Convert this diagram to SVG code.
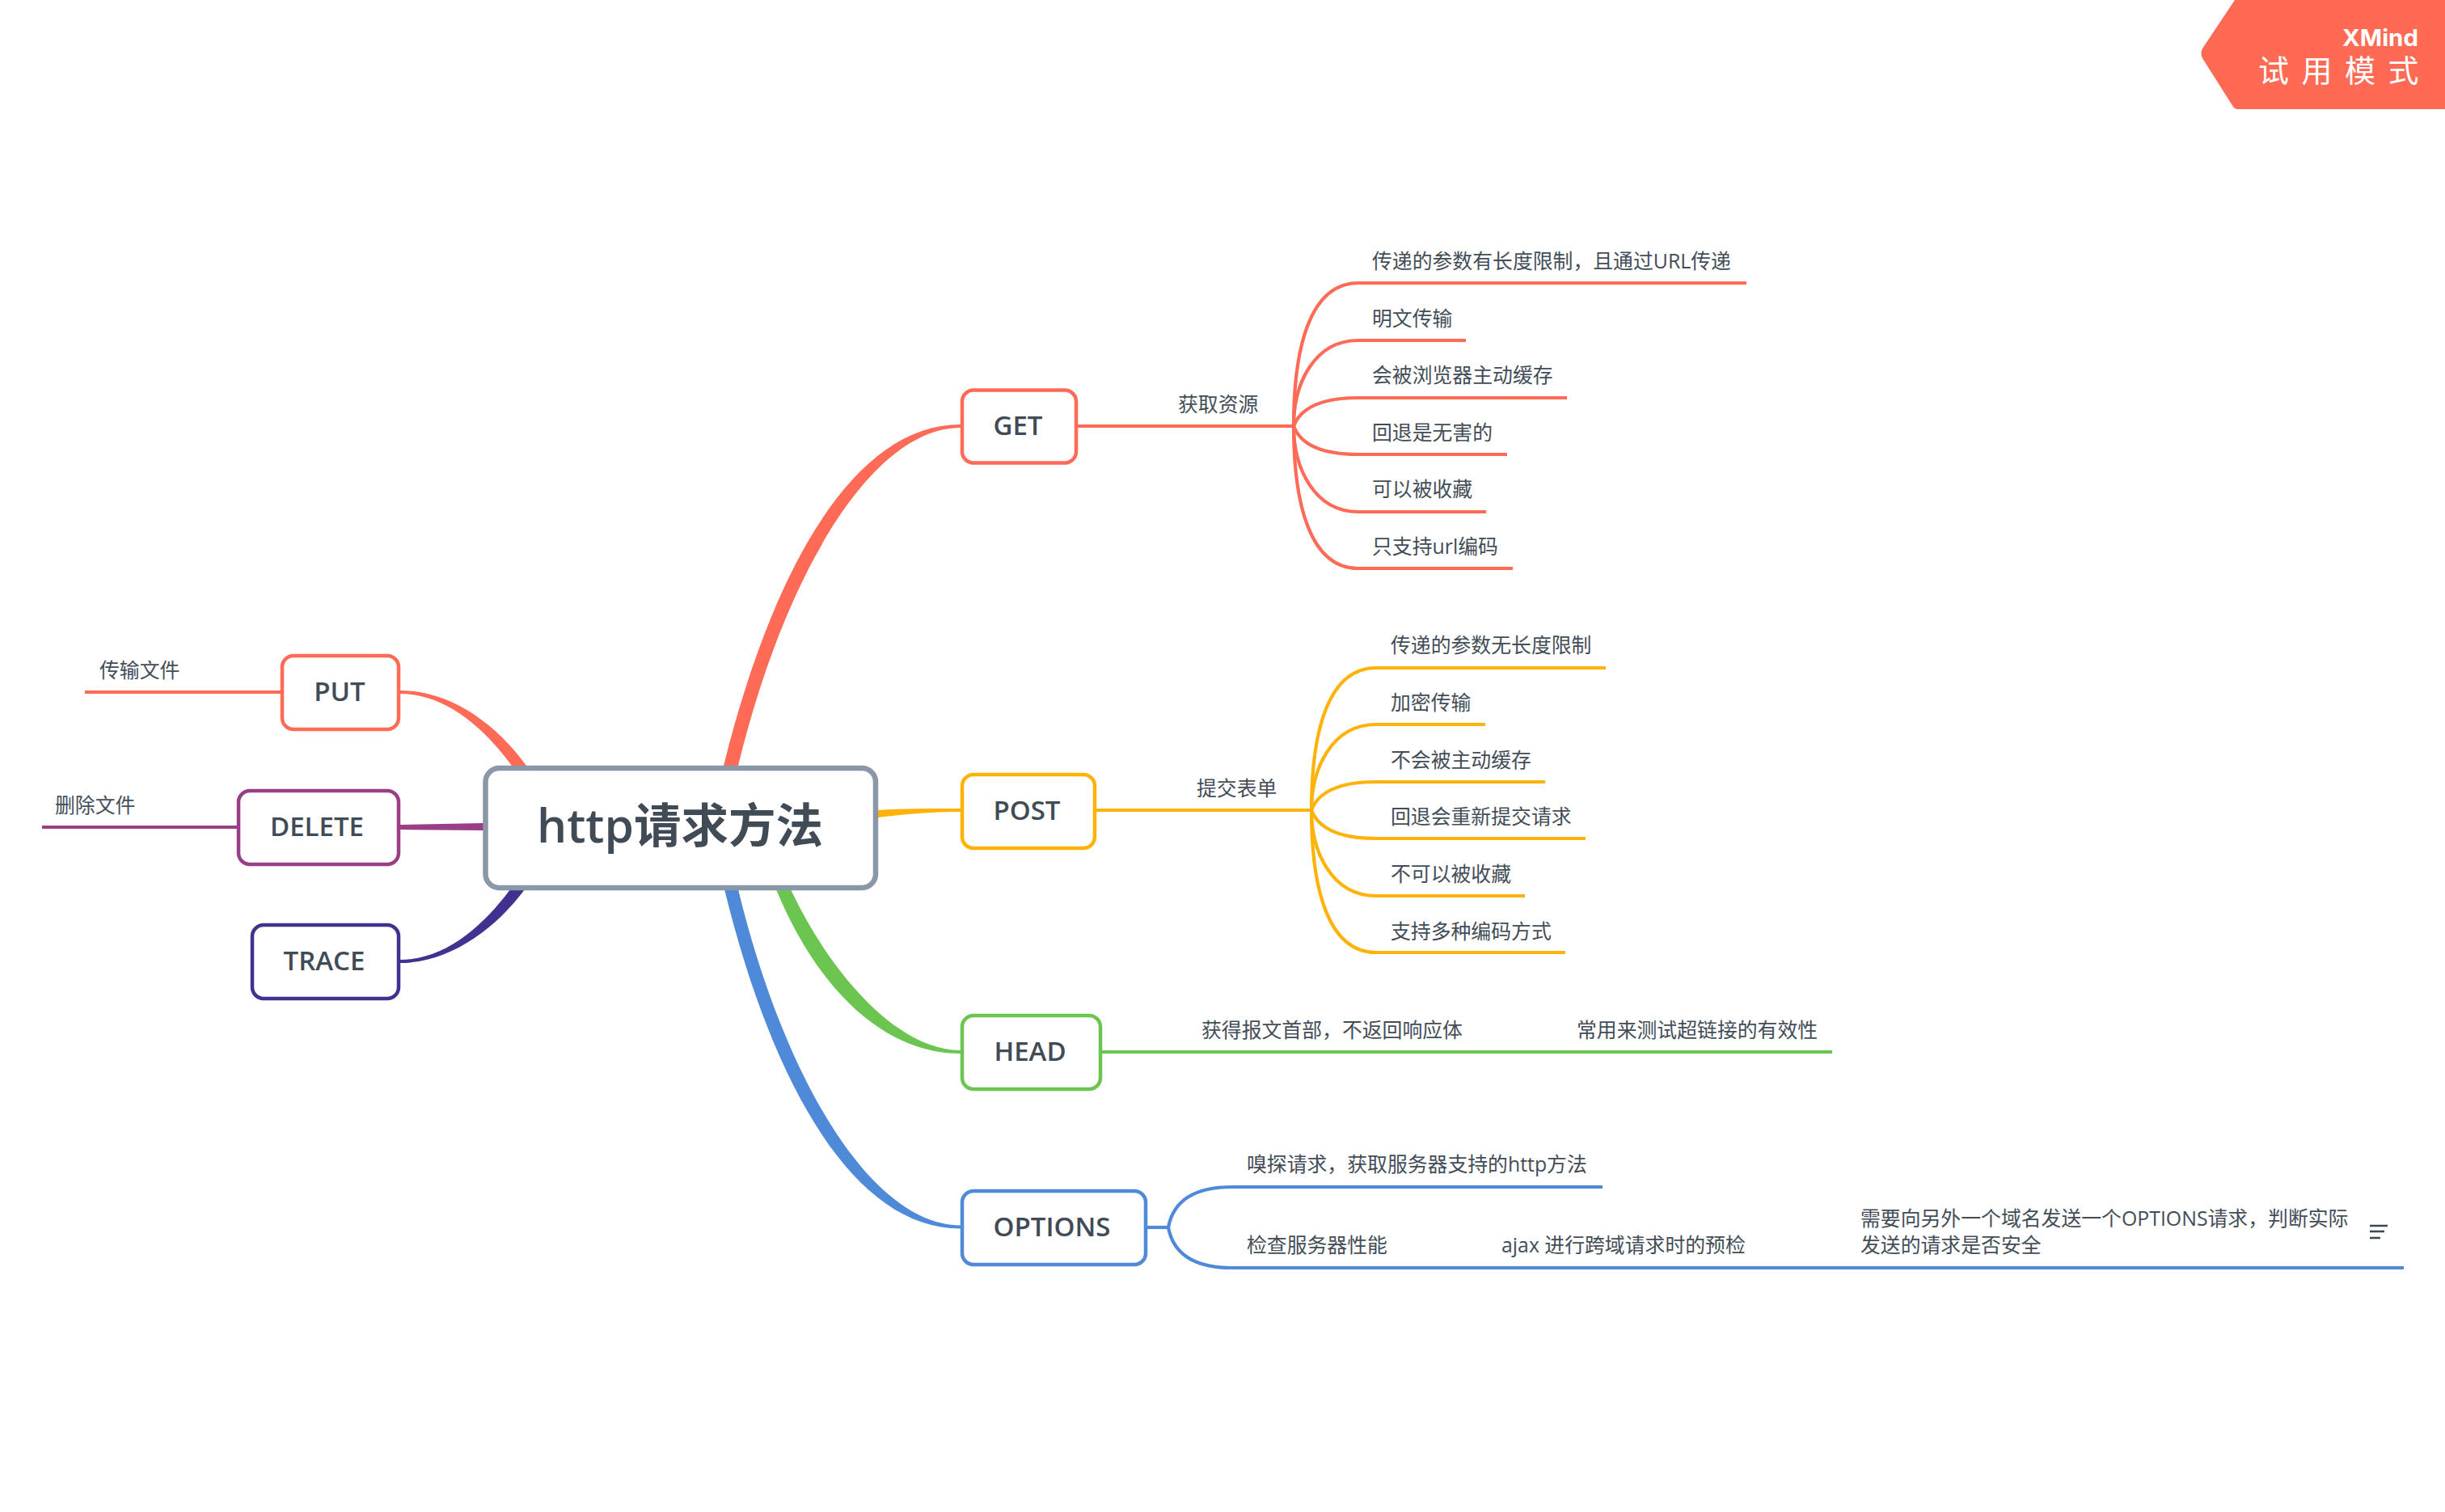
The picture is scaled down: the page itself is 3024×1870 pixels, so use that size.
<svg xmlns="http://www.w3.org/2000/svg" width="3024" height="1870" viewBox="0 0 3024 1870">
<style>
text{font-family:"Open Sans","Noto Sans CJK SC",sans-serif;fill:#434d58}
.t{font-size:24.85px}
.m{font-size:33px;font-weight:600;text-anchor:middle;fill:#414b56}
.n{fill:#fff;stroke-width:4.5}
.l{fill:none;stroke-width:4.2}
.red{stroke:#ff6b57}.yel{stroke:#ffb30a}.grn{stroke:#6cc451}.blu{stroke:#4f8ad9}.pur{stroke:#9a3f87}.ind{stroke:#433190}
</style>
<rect width="3024" height="1870" fill="#fff"/>
<g id="connectors">
<path fill="#ff6b57" d="M895,947C955,706 1055,525 1188,525L1188,529C1078,529 970,712 913,947Z"/>
<path fill="#ffb30a" d="M1086,1011C1120,1007 1150,1004 1188,1004L1188,1000C1150,1000 1115,1000 1086,1002Z"/>
<path fill="#6cc451" d="M960,1100C1005,1210 1085,1303 1188,1303L1188,1299C1108,1299 1025,1200 978,1100Z"/>
<path fill="#4f8ad9" d="M896,1100C955,1340 1055,1519.500 1188,1519.500L1188,1515.500C1078,1515.500 970,1335 913,1100Z"/>
<path fill="#ff6b57" d="M651,947C612,893 555,854 495,854L495,858C550,858 598,899 633,947Z"/>
<path fill="#9a3f87" d="M495,1020L598,1018L598,1027L495,1026Z"/>
<path fill="#433190" d="M649,1100C612,1150 555,1191 495,1191L495,1187C550,1187 597,1146 631,1100Z"/>
<g class="l red">
<path d="M1333,527H1600"/>
<path d="M1600,527C1600,430 1620,350 1680,350H2160"/>
<path d="M1600,527C1600,475 1625,421 1680,421H1813"/>
<path d="M1600,527C1608,506 1630,492 1680,492H1938"/>
<path d="M1600,527C1608,548 1630,562 1680,562H1864"/>
<path d="M1600,527C1600,578 1625,633 1680,633H1838"/>
<path d="M1600,527C1600,623 1620,703 1680,703H1871"/>
</g>
<g class="l yel">
<path d="M1355,1002H1622"/>
<path d="M1622,1002C1622,906 1642,826 1702,826H1986"/>
<path d="M1622,1002C1622,951 1647,896 1702,896H1837"/>
<path d="M1622,1002C1630,981 1652,967 1702,967H1911"/>
<path d="M1622,1002C1630,1023 1652,1037 1702,1037H1961"/>
<path d="M1622,1002C1622,1053 1647,1108 1702,1108H1886"/>
<path d="M1622,1002C1622,1098 1642,1178 1702,1178H1936"/>
</g>
<path class="l grn" d="M1362,1301H2266"/>
<g class="l blu">
<path d="M1418,1518H1445"/>
<path d="M1445,1518C1450,1491 1470,1468 1524,1468H1982"/>
<path d="M1445,1518C1450,1545 1470,1568 1524,1568H2973"/>
</g>
<path class="l red" d="M347,856H105"/>
<path class="l pur" d="M293,1023H52"/>
</g>
<g id="central"><rect x="600.500" y="950" width="482.500" height="148" rx="17" fill="#fff" stroke="#8997a8" stroke-width="6.500"/><text x="841" y="1042" font-size="58.500" font-weight="600" text-anchor="middle" style="fill:#414b56">http请求方法</text></g>
<g id="get"><rect class="n red" x="1190" y="482.500" width="141" height="90" rx="14"/><text class="m" x="1259" y="538">GET</text></g>
<g id="post"><rect class="n yel" x="1190" y="958" width="164" height="91" rx="14"/><text class="m" x="1270" y="1014">POST</text></g>
<g id="head"><rect class="n grn" x="1190" y="1256" width="171" height="91" rx="14"/><text class="m" x="1274" y="1312">HEAD</text></g>
<g id="options"><rect class="n blu" x="1190" y="1473" width="227" height="91" rx="14"/><text class="m" x="1301" y="1529">OPTIONS</text></g>
<g id="put"><rect class="n red" x="349" y="811" width="144" height="91" rx="14"/><text class="m" x="420" y="867">PUT</text></g>
<g id="delete"><rect class="n pur" x="295" y="978" width="198" height="91" rx="14"/><text class="m" x="392" y="1034">DELETE</text></g>
<g id="trace"><rect class="n ind" x="312" y="1144" width="181" height="91" rx="14"/><text class="m" x="401" y="1200">TRACE</text></g>
<g id="get-children">
<text class="t" x="1457" y="509">获取资源</text>
<text class="t" x="1697" y="332">传递的参数有长度限制，且通过URL传递</text>
<text class="t" x="1697" y="403">明文传输</text>
<text class="t" x="1697" y="473">会被浏览器主动缓存</text>
<text class="t" x="1697" y="544">回退是无害的</text>
<text class="t" x="1697" y="614">可以被收藏</text>
<text class="t" x="1697" y="685">只支持url编码</text>
</g>
<g id="post-children">
<text class="t" x="1480" y="984">提交表单</text>
<text class="t" x="1720" y="807">传递的参数无长度限制</text>
<text class="t" x="1720" y="878">加密传输</text>
<text class="t" x="1720" y="949">不会被主动缓存</text>
<text class="t" x="1720" y="1019">回退会重新提交请求</text>
<text class="t" x="1720" y="1090">不可以被收藏</text>
<text class="t" x="1720" y="1161">支持多种编码方式</text>
</g>
<g id="head-children">
<text class="t" x="1486" y="1283">获得报文首部，不返回响应体</text>
<text class="t" x="1950" y="1283">常用来测试超链接的有效性</text>
</g>
<g id="options-children">
<text class="t" x="1542" y="1449">嗅探请求，获取服务器支持的http方法</text>
<text class="t" x="1542" y="1549">检查服务器性能</text>
<text class="t" x="1857" y="1549">ajax 进行跨域请求时的预检</text>
<text class="t" x="2301" y="1516">需要向另外一个域名发送一个OPTIONS请求，判断实际</text>
<text class="t" x="2301" y="1549">发送的请求是否安全</text>
<g id="note-icon" fill="none" stroke="#3d4752" stroke-width="2.400"><path d="M2931,1516H2953M2931,1523H2949M2931,1531H2944"/></g>
</g>
<g id="put-child"><text class="t" x="123" y="838">传输文件</text></g>
<g id="delete-child"><text class="t" x="68" y="1005">删除文件</text></g>
<g id="trial-badge">
<path fill="#ff6a54" d="M2764,0L2724,60Q2721,66 2724,72L2762,132Q2764,135 2768,135H3024V0Z"/>
<text x="2991" y="57" font-size="28" font-weight="700" text-anchor="end" textLength="94" lengthAdjust="spacingAndGlyphs" style="fill:#fff;font-family:Inter,sans-serif">XMind</text>
<text x="2793" y="101" font-size="38" letter-spacing="15.500" style="fill:#fff;font-family:'Noto Sans CJK SC',sans-serif">试用模式</text>
</g>
</svg>
